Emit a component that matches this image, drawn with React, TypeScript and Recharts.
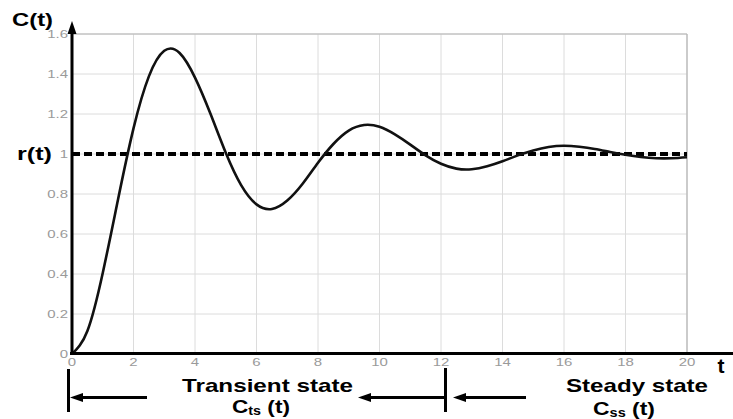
import React from 'react';
import { LineChart, Line, XAxis, YAxis, CartesianGrid, ReferenceLine } from 'recharts';

// step response of the system, every 0.5 s
const time = [
  0, 0.5, 1, 1.5, 2, 2.5, 3, 3.5, 4, 4.5, 5, 5.5, 6, 6.5, 7, 7.5, 8, 8.5, 9, 9.5, 10,
  10.5, 11, 11.5, 12, 12.5, 13, 13.5, 14, 14.5, 15, 15.5, 16, 16.5, 17, 17.5, 18, 18.5, 19, 19.5, 20,
];
const response = [
  0, 0.115, 0.405, 0.775, 1.128, 1.388, 1.516, 1.505, 1.382, 1.202, 1.006, 0.844, 0.748, 0.725,
  0.767, 0.851, 0.956, 1.05, 1.117, 1.145, 1.136, 1.098, 1.047, 0.993, 0.951, 0.927, 0.924, 0.939,
  0.964, 0.993, 1.018, 1.035, 1.041, 1.036, 1.025, 1.01, 0.996, 0.985, 0.979, 0.979, 0.984,
];
const reference = 1;

const xTicks = [0, 2, 4, 6, 8, 10, 12, 14, 16, 18, 20];
const yTicks = [0, 0.2, 0.4, 0.6, 0.8, 1, 1.2, 1.4, 1.6];

const data = time.map((t, i) => ({ t, c: response[i] }));

const FONT = '"Liberation Sans", Arial, Helvetica, sans-serif';
const tickColor = '#9a9a9a';

function XTick(props: any) {
  const { x, y, payload } = props;
  return (
    <text
      transform={`translate(${x},${y}) scale(1.5,1)`}
      textAnchor="middle"
      dy={8}
      fontSize={10}
      fontFamily={FONT}
      fill={tickColor}
    >
      {payload.value}
    </text>
  );
}

function YTick(props: any) {
  const { x, y, payload } = props;
  return (
    <text
      transform={`translate(${x},${y}) scale(1.5,1)`}
      textAnchor="end"
      dy={3.5}
      fontSize={10}
      fontFamily={FONT}
      fill={tickColor}
    >
      {payload.value}
    </text>
  );
}

const bold = { fontFamily: FONT, fontWeight: 700, fill: '#000' } as const;

function Annotations() {
  return (
    <svg
      width={733}
      height={419}
      style={{ position: 'absolute', left: 0, top: 0, pointerEvents: 'none' }}
    >
      {/* axes with arrow */}
      <line x1={72} y1={355} x2={72} y2={30} stroke="#000" strokeWidth={3} />
      <polygon points="72,21 67.5,34 76.5,34" fill="#000" />
      <line x1={70} y1={353.5} x2={733} y2={353.5} stroke="#000" strokeWidth={3} />

      <text x={12} y={26} fontSize={19} textLength={41} lengthAdjust="spacingAndGlyphs" {...bold}>
        C(t)
      </text>
      <text x={17} y={160} fontSize={19} textLength={35} lengthAdjust="spacingAndGlyphs" {...bold}>
        r(t)
      </text>
      <text x={721} y={373} fontSize={21} textAnchor="middle" {...bold}>
        t
      </text>

      {/* transient part */}
      <line x1={68.5} y1={369} x2={68.5} y2={412} stroke="#000" strokeWidth={3} />
      <line x1={80} y1={397.5} x2={147} y2={397.5} stroke="#000" strokeWidth={3} />
      <polygon points="70,397.5 83,393 83,402" fill="#000" />
      <text
        x={267.5}
        y={392}
        fontSize={19}
        textAnchor="middle"
        textLength={171}
        lengthAdjust="spacingAndGlyphs"
        {...bold}
      >
        Transient state
      </text>
      <text
        x={261}
        y={413}
        fontSize={19}
        textAnchor="middle"
        textLength={58}
        lengthAdjust="spacingAndGlyphs"
        {...bold}
      >
        C<tspan fontSize={12} dy={2}>ts</tspan>
        <tspan fontSize={19} dy={-2}> (t)</tspan>
      </text>

      <line x1={368} y1={397.5} x2={445} y2={397.5} stroke="#000" strokeWidth={3} />
      <polygon points="358,397.5 371,393 371,402" fill="#000" />
      <line x1={445.5} y1={368} x2={445.5} y2={412} stroke="#000" strokeWidth={3} />

      {/* steady part */}
      <line x1={463} y1={397.5} x2={526} y2={397.5} stroke="#000" strokeWidth={3} />
      <polygon points="453,397.5 466,393 466,402" fill="#000" />
      <text
        x={637}
        y={392}
        fontSize={19}
        textAnchor="middle"
        textLength={142}
        lengthAdjust="spacingAndGlyphs"
        {...bold}
      >
        Steady state
      </text>
      <text
        x={624}
        y={415}
        fontSize={19}
        textAnchor="middle"
        textLength={62}
        lengthAdjust="spacingAndGlyphs"
        {...bold}
      >
        C<tspan fontSize={12} dy={2}>ss</tspan>
        <tspan fontSize={19} dy={-2}> (t)</tspan>
      </text>
    </svg>
  );
}

export default function App() {
  return (
    <div style={{ position: 'absolute', left: 0, top: 0, width: 733, height: 419, background: '#fff' }}>
      <LineChart width={733} height={419} data={data} margin={{ top: 34, right: 46, left: 0, bottom: 0 }}>
        <CartesianGrid stroke="#dcdcdc" strokeWidth={1} />
        <XAxis
          dataKey="t"
          type="number"
          domain={[0, 20]}
          ticks={xTicks}
          height={65}
          axisLine={false}
          tickLine={false}
          tickSize={0}
          tickMargin={4}
          tick={<XTick />}
          interval={0}
        />
        <YAxis
          type="number"
          domain={[0, 1.6]}
          ticks={yTicks}
          width={72}
          axisLine={false}
          tickLine={false}
          tickSize={0}
          tickMargin={4}
          tick={<YTick />}
          interval={0}
        />
        <ReferenceLine y={1.6} stroke="#b4b4b4" strokeWidth={1.2} />
        <ReferenceLine x={20} stroke="#b4b4b4" strokeWidth={1.2} />
        <ReferenceLine y={reference} stroke="#000" strokeWidth={3.8} strokeDasharray="8 4" />
        <Line
          type="natural"
          dataKey="c"
          stroke="#111"
          strokeWidth={2.6}
          dot={false}
          activeDot={false}
          isAnimationActive={false}
        />
      </LineChart>
      <Annotations />
    </div>
  );
}
